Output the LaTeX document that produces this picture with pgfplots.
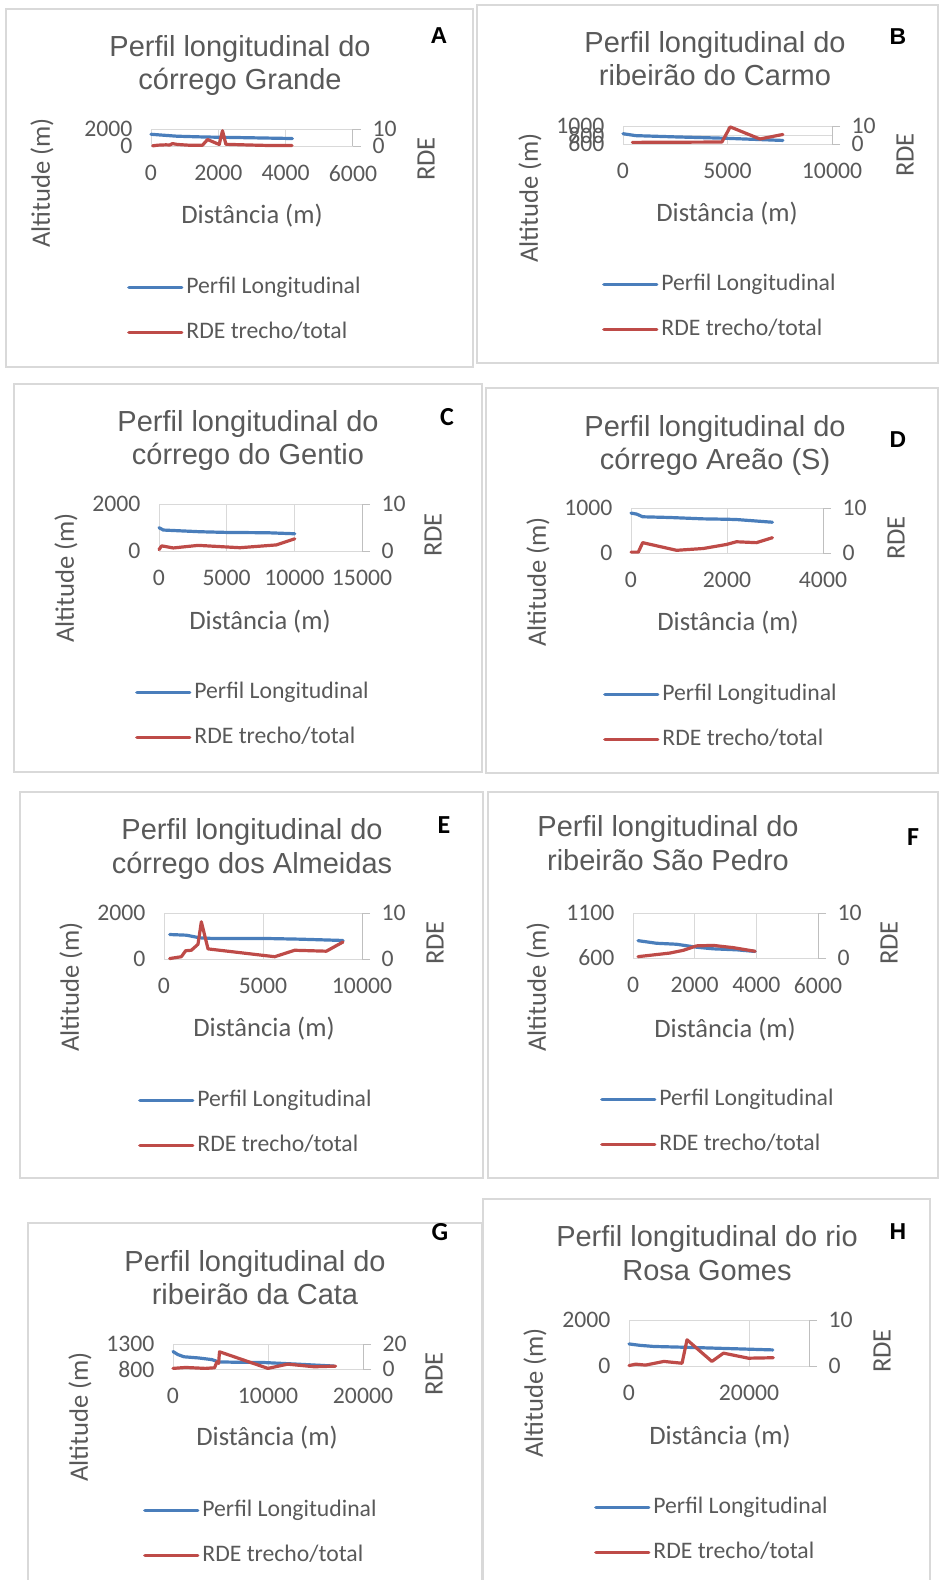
\documentclass[border=0pt]{standalone}
\usepackage{fontspec}
\setmainfont{Carlito}
\newfontfamily\titlefont{Liberation Sans}
\usepackage{pgfplots}
\pgfplotsset{compat=1.18}
\definecolor{txt}{HTML}{595959}
\definecolor{blu}{HTML}{4A7EBB}
\definecolor{rd}{HTML}{BE4B48}
\definecolor{grd}{HTML}{D9D9D9}
\definecolor{axl}{HTML}{BFBFBF}
\newcommand\tkfont{\fontsize{23.7}{28}\selectfont}
\pgfplotsset{
  common/.style={scale only axis, anchor=north west, clip=false,
    scaled ticks=false, /pgf/number format/1000 sep={},
    /pgf/number format/assume math mode=true,
    tick label style={font=\tkfont, color=txt}},
  prim/.style={common,
    axis line style={draw=grd, line width=1pt},
    grid=major, grid style={draw=grd, line width=1pt},
    major tick length=0pt,
    xticklabel style={yshift=-16pt},
    yticklabel style={xshift=-15pt}},
  sec/.style={common,
    axis x line=none, axis y line*=right,
    axis line style={draw=axl, line width=1pt},
    ytick style={draw=axl, line width=1pt},
    tick align=outside, major tick length=8pt,
    yticklabel style={xshift=8pt},
    legend cell align=left,
    legend image code/.code={\draw[##1] (0pt,0pt) -- (53pt,0pt);},
    legend style={anchor=north west, draw=none, fill=none, inner sep=0pt,
      row sep=23pt, column sep=3pt, font=\tkfont, text=txt,
      nodes={inner sep=0pt, text height=17pt, text depth=5pt}}},
  bl/.style={blu, line width=3.2pt, line join=round, line cap=round},
  rl/.style={rd, line width=3.2pt, line join=round, line cap=round},
}
\begin{document}
\begin{tikzpicture}[x=1pt,y=-1pt,
  ttl/.style={font=\titlefont\fontsize{29}{33}\selectfont, text=txt, anchor=base, inner sep=0pt},
  lab/.style={font=\fontsize{26.6}{30}\selectfont, text=txt, inner sep=0pt},
  ltrA/.style={font=\titlefont\bfseries\fontsize{23}{26}\selectfont, inner sep=0pt},
  ltrC/.style={font=\bfseries\fontsize{26}{30}\selectfont, inner sep=0pt},
  box/.style={draw=grd, line width=1.2pt}]
\useasboundingbox (0,0) rectangle (939,1580);

%%%%%%%%%%%%%%%% A
\draw[box] (6,9) rectangle (473,367);
\node[ttl] at (240,56) {Perfil longitudinal do};
\node[ttl] at (240,89) {córrego Grande};
\node[ltrA] at (439,36) {A};
\node[lab, rotate=90] at (42,183) {Altitude (m)};
\node[lab] at (252,216) {Distância (m)};
\node[lab, rotate=90] at (426,159) {RDE};
\begin{axis}[prim, at={(151pt,-129pt)}, width=202pt, height=17pt,
  xmin=0, xmax=6000, ymin=0, ymax=2000, xtick={0,2000,4000,6000}, ytick={0,2000}]
\addplot[bl] coordinates {(0,1380) (300,1290) (780,1150) (1580,1060) (2500,1000) (4200,880)};
\end{axis}
\begin{axis}[sec, at={(151pt,-129pt)}, width=202pt, height=17pt,
  xmin=0, xmax=6000, ymin=0, ymax=10, ytick={0,10},
  legend style={at={(-0.1188,-7.647)}}]
\addlegendimage{bl}\addlegendentry{Perfil Longitudinal}
\addplot[rl] coordinates {(50,0.1) (210,0.5) (440,0.7) (560,0.6) (640,1.4) (790,0.9) (1186,0.4) (1530,0.5) (1680,3.8) (2026,0.9) (2124,9.0) (2224,1.0) (2900,0.6) (3500,0.3) (4190,0.3)};
\addlegendentry{RDE trecho/total}
\end{axis}

%%%%%%%%%%%%%%%% B
\draw[box] (477,5) rectangle (938,363);
\node[ttl] at (715,52) {Perfil longitudinal do};
\node[ttl] at (715,85) {ribeirão do Carmo};
\node[ltrA] at (898,37) {B};
\node[lab, rotate=90] at (530,198) {Altitude (m)};
\node[lab] at (727,214) {Distância (m)};
\node[lab, rotate=90] at (905,155) {RDE};
\begin{axis}[prim, at={(623pt,-126pt)}, width=209pt, height=18pt,
  xmin=0, xmax=10000, ymin=600, ymax=1000, xtick={0,5000,10000}, ytick={600,800,1000}]
\addplot[bl] coordinates {(0,829) (605,786) (2500,758) (4880,728) (7650,679)};
\end{axis}
\begin{axis}[sec, at={(623pt,-126pt)}, width=209pt, height=18pt,
  xmin=0, xmax=10000, ymin=0, ymax=10, ytick={0,10},
  legend style={at={(-0.1005,-7.1667)}}]
\addlegendimage{bl}\addlegendentry{Perfil Longitudinal}
\addplot[rl] coordinates {(448,0.9) (4733,1.1) (5129,9.5) (6548,2.8) (7650,5.3)};
\addlegendentry{RDE trecho/total}
\end{axis}

%%%%%%%%%%%%%%%% C
\draw[box] (14,384) rectangle (482,772);
\node[ttl] at (248,431) {Perfil longitudinal do};
\node[ttl] at (248,464) {córrego do Gentio};
\node[ltrC] at (447,417) {C};
\node[lab, rotate=90] at (66,578) {Altitude (m)};
\node[lab] at (260,622) {Distância (m)};
\node[lab, rotate=90] at (433,535) {RDE};
\begin{axis}[prim, at={(159pt,-504pt)}, width=203pt, height=47pt,
  xmin=0, xmax=15000, ymin=0, ymax=2000, xtick={0,5000,10000,15000}, ytick={0,2000}]
\addplot[bl] coordinates {(0,993) (320,892) (3025,820) (4990,791) (8000,777) (10033,734)};
\end{axis}
\begin{axis}[sec, at={(159pt,-504pt)}, width=203pt, height=47pt,
  xmin=0, xmax=15000, ymin=0, ymax=10, ytick={0,10},
  legend style={at={(-0.1182,-2.766)}}]
\addlegendimage{bl}\addlegendentry{Perfil Longitudinal}
\addplot[rl] coordinates {(0,0.3) (197,1.1) (1057,0.65) (2900,1.2) (5975,0.7) (8680,1.3) (10033,2.6)};
\addlegendentry{RDE trecho/total}
\end{axis}

%%%%%%%%%%%%%%%% D
\draw[box] (486,388) rectangle (938,773);
\node[ttl] at (715,436) {Perfil longitudinal do};
\node[ttl] at (715,469) {córrego Areão (S)};
\node[ltrA] at (898,440) {D};
\node[lab, rotate=90] at (538,582) {Altitude (m)};
\node[lab] at (728,623) {Distância (m)};
\node[lab, rotate=90] at (896,538) {RDE};
\begin{axis}[prim, at={(631pt,-508pt)}, width=192pt, height=45pt,
  xmin=0, xmax=4000, ymin=0, ymax=1000, xtick={0,2000,4000}, ytick={0,1000}]
\addplot[bl] coordinates {(0,887) (118,865) (243,805) (811,789) (1504,759) (2000,750) (2197,744) (2946,684)};
\end{axis}
\begin{axis}[sec, at={(631pt,-508pt)}, width=192pt, height=45pt,
  xmin=0, xmax=4000, ymin=0, ymax=10, ytick={0,10},
  legend style={at={(-0.1458,-2.889)}}]
\addlegendimage{bl}\addlegendentry{Perfil Longitudinal}
\addplot[rl] coordinates {(0,0.2) (152,0.2) (243,2.3) (950,0.6) (1504,1.0) (1990,1.9) (2197,2.5) (2613,2.3) (2946,3.4)};
\addlegendentry{RDE trecho/total}
\end{axis}

%%%%%%%%%%%%%%%% E
\draw[box] (20,792) rectangle (483,1178);
\node[ttl] at (252,839) {Perfil longitudinal do};
\node[ttl] at (252,873) {córrego dos Almeidas};
\node[ltrC] at (444,825) {E};
\node[lab, rotate=90] at (71,987) {Altitude (m)};
\node[lab] at (264,1029) {Distância (m)};
\node[lab, rotate=90] at (435,943) {RDE};
\begin{axis}[prim, at={(164pt,-913pt)}, width=198pt, height=46pt,
  xmin=0, xmax=10000, ymin=0, ymax=2000, xtick={0,5000,10000}, ytick={0,2000}]
\addplot[bl] coordinates {(286,1065) (1128,1036) (1801,921) (2475,892) (5168,892) (6852,863) (9040,806)};
\end{axis}
\begin{axis}[sec, at={(164pt,-913pt)}, width=198pt, height=46pt,
  xmin=0, xmax=10000, ymin=0, ymax=10, ytick={0,10},
  legend style={at={(-0.1313,-2.826)}}]
\addlegendimage{bl}\addlegendentry{Perfil Longitudinal}
\addplot[rl] coordinates {(286,0.1) (875,0.5) (1094,1.8) (1380,1.9) (1717,3.2) (1886,8.1) (2222,2.2) (5589,0.5) (6599,1.9) (8199,1.7) (9040,3.7)};
\addlegendentry{RDE trecho/total}
\end{axis}

%%%%%%%%%%%%%%%% F
\draw[box] (488,792) rectangle (938,1178);
\node[ttl] at (668,836) {Perfil longitudinal do};
\node[ttl] at (668,870) {ribeirão São Pedro};
\node[ltrC] at (913,837) {F};
\node[lab, rotate=90] at (538,987) {Altitude (m)};
\node[lab] at (725,1030) {Distância (m)};
\node[lab, rotate=90] at (889,943) {RDE};
\begin{axis}[prim, at={(633pt,-913pt)}, width=185pt, height=45pt,
  xmin=0, xmax=6000, ymin=600, ymax=1100, xtick={0,2000,4000,6000}, ytick={600,1100}]
\addplot[bl] coordinates {(163,793) (759,764) (1410,753) (2061,720) (2604,702) (3363,691) (3960,673)};
\end{axis}
\begin{axis}[sec, at={(633pt,-913pt)}, width=185pt, height=45pt,
  xmin=0, xmax=6000, ymin=0, ymax=10, ytick={0,10},
  legend style={at={(-0.1784,-2.889)}}]
\addlegendimage{bl}\addlegendentry{Perfil Longitudinal}
\addplot[rl] coordinates {(163,0.3) (1193,1.1) (1627,1.7) (2061,2.7) (2604,2.8) (3255,2.3) (3960,1.5)};
\addlegendentry{RDE trecho/total}
\end{axis}

%%%%%%%%%%%%%%%% G
\draw[box] (28,1590) -- (28,1223) -- (482,1223) -- (482,1590);
\node[ttl] at (255,1271) {Perfil longitudinal do};
\node[ttl] at (255,1304) {ribeirão da Cata};
\node[ltrC] at (440,1232) {G};
\node[lab, rotate=90] at (80,1417) {Altitude (m)};
\node[lab] at (267,1438) {Distância (m)};
\node[lab, rotate=90] at (434,1374) {RDE};
\begin{axis}[prim, at={(173pt,-1344pt)}, width=190pt, height=25pt,
  xmin=0, xmax=20000, ymin=800, ymax=1300, xtick={0,10000,20000}, ytick={800,1300}]
\addplot[bl] coordinates {(0,1150) (500,1090) (1146,1045) (2708,1021) (4097,988) (4792,943) (6181,937) (9653,929) (13125,897) (16944,859)};
\end{axis}
\begin{axis}[sec, at={(173pt,-1344pt)}, width=190pt, height=25pt,
  xmin=0, xmax=20000, ymin=0, ymax=20, ytick={0,20},
  legend style={at={(-0.1579,-5.2)}}]
\addlegendimage{bl}\addlegendentry{Perfil Longitudinal}
\addplot[rl] coordinates {(0,0.5) (1319,1.25) (3403,0.5) (4375,1.0) (4618,5.7) (4800,4.5) (4896,13.8) (9993,0.5) (12076,3.9) (14854,1.8) (17111,2.3)};
\addlegendentry{RDE trecho/total}
\end{axis}

%%%%%%%%%%%%%%%% H
\draw[box] (483,1590) -- (483,1199) -- (930,1199) -- (930,1590);
\node[ttl] at (707,1246) {Perfil longitudinal do rio};
\node[ttl] at (707,1280) {Rosa Gomes};
\node[ltrA] at (898,1232) {H};
\node[lab, rotate=90] at (535,1393) {Altitude (m)};
\node[lab] at (720,1437) {Distância (m)};
\node[lab, rotate=90] at (882,1351) {RDE};
\begin{axis}[prim, at={(629pt,-1320pt)}, width=180pt, height=46pt,
  xmin=0, xmax=30000, ymin=0, ymax=2000, xtick={0,20000}, ytick={0,2000}]
\addplot[bl] coordinates {(0,960) (1778,900) (4132,850) (9653,813) (15165,770) (23967,700)};
\end{axis}
\begin{axis}[sec, at={(629pt,-1320pt)}, width=180pt, height=46pt,
  xmin=0, xmax=30000, ymin=0, ymax=10, ytick={0,10},
  legend style={at={(-0.1944,-2.826)}}]
\addlegendimage{bl}\addlegendentry{Perfil Longitudinal}
\addplot[rl] coordinates {(0,0.1) (1107,0.4) (2760,0.2) (5800,1.0) (8840,0.6) (9669,5.7) (13812,1.0) (15746,2.8) (19890,1.7) (24033,1.8)};
\addlegendentry{RDE trecho/total}
\end{axis}
\end{tikzpicture}
\end{document}
